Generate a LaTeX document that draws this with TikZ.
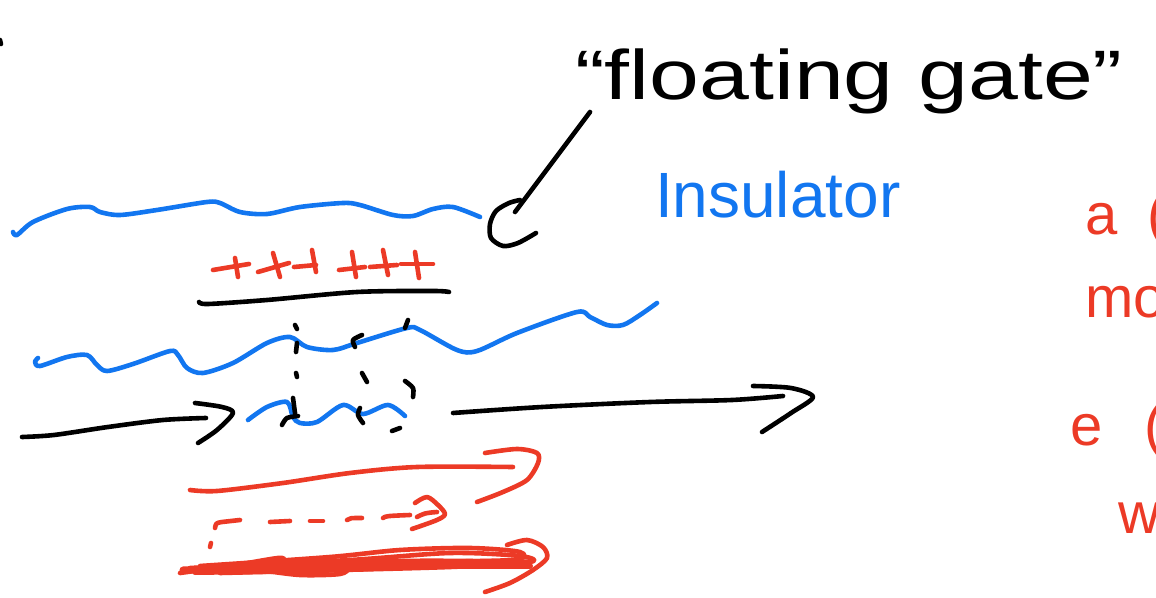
\documentclass[tikz,border=0pt]{standalone}
\usepackage{fontspec}
\setmainfont{Liberation Sans}
\definecolor{inkblue}{RGB}{18,118,240}
\definecolor{inkred}{RGB}{236,58,38}
\begin{document}
\begin{tikzpicture}[x=0.5pt,y=-0.5pt,
  pen/.style={line width=2.3pt,line cap=round,line join=round},
  bluepen/.style={pen,draw=inkblue},
  redpen/.style={pen,draw=inkred},
  blackpen/.style={pen,draw=black},
  txt/.style={inner sep=0pt,outer sep=0pt,anchor=base west}]
\useasboundingbox (0,0) rectangle (1156,598);
\clip (0,0) rectangle (1156,598);

% tiny mark top-left
\draw[blackpen] (0,40) -- (1,44);

% title
\node[txt,text=black,font=\fontsize{35}{40}\selectfont] (title) at (575,100) {\scalebox{1.28}[1]{“floating gate”}};
% pointer line and hook
\coordinate (ptrA) at (590,112);
\coordinate (ptrB) at (515,212);
\draw[blackpen] (ptrA) -- (ptrB);
\draw[blackpen] plot[smooth] coordinates {(520,200) (509,203) (496,211) (490,224) (491,238) (503,246) (518,243) (536,233)};

% Insulator label
\node[txt,text=inkblue,font=\fontsize{32}{36}\selectfont] (ins) at (655,218) {Insulator};

% top blue wave
\draw[bluepen] plot[smooth] coordinates {(13,232) (17,235) (33,222) (67,209) (90,207) (100,212) (120,215) (157,210) (207,202) (220,203) (240,212) (267,214) (300,207) (343,203) (360,205) (393,215) (413,216) (433,209) (453,207) (480,217)};

% red plus signs
\foreach \hx/\hy/\hX/\hY/\vx/\vy/\vX/\vY in {
  213/270/249/264/235/258/238/277,
  258/272/289/263/273/253/280/277,
  294/267/316/265/312/250/316/272,
  339/270/365/267/352/252/356/277,
  370/267/397/265/383/250/388/275,
  401/264/433/264/415/252/419/278}{
  \draw[redpen] (\hx,\hy) -- (\hX,\hY);
  \draw[redpen] (\vx,\vy) -- (\vX,\vY);
}

% black underline (gate)
\draw[blackpen] plot[smooth] coordinates {(199,302) (208,304) (267,300) (357,292) (433,291) (449,292)};

% second blue wave
\draw[bluepen] plot[smooth] coordinates {(38,358) (35,362) (40,366) (67,357) (87,355) (97,365) (107,371) (133,364) (170,351) (178,355) (187,368) (203,373) (233,363) (267,343) (290,337) (307,347) (333,350) (357,343) (407,328) (420,330) (457,350) (477,351) (517,333) (577,312) (590,317) (607,325) (623,325) (640,315) (657,303)};

% small blue wave (channel)
\draw[bluepen] plot[smooth] coordinates {(248,420) (267,407) (287,402) (293,417) (300,423) (317,422) (343,405) (363,414) (388,405) (405,416)};

% black dotted marks
\draw[blackpen] (295,325) -- (297,329);
\draw[blackpen] (297,343) -- (296,352);
\draw[blackpen] (296,373) -- (297,377);
\draw[blackpen] (293,398) -- (295,413);
\draw[blackpen] plot[smooth] coordinates {(282,425) (287,418) (298,416)};
\draw[blackpen] plot[smooth] coordinates {(362,335) (353,340) (355,347)};
\draw[blackpen] (408,320) -- (405,328);
\draw[blackpen] (362,373) -- (367,382);
\draw[blackpen] plot[smooth] coordinates {(405,381) (413,388) (413,397)};
\draw[blackpen] plot[smooth] coordinates {(360,408) (358,415) (363,423)};
\draw[blackpen] (392,431) -- (400,428);

% left black arrow
\draw[blackpen] plot[smooth] coordinates {(22,437) (54,435) (108,427) (163,420) (206,418)};
\draw[blackpen] plot[smooth] coordinates {(195,403) (222,407) (233,413) (217,430) (198,443)};

% right black arrow
\draw[blackpen] plot[smooth] coordinates {(453,413) (542,407) (650,402) (732,400) (783,396)};
\draw[blackpen] plot[smooth] coordinates {(753,386) (791,388) (813,397) (791,413) (762,432)};

% red arrow 1
\draw[redpen] plot[smooth] coordinates {(190,490) (217,491) (283,483) (350,473) (417,467) (513,467)};
\draw[redpen] plot[smooth] coordinates {(485,453) (517,449) (537,453) (538,463) (527,480) (503,492) (477,502)};

% red dashed arrow
\draw[redpen] (210,547) -- (211,543);
\draw[redpen] (215,528) .. controls (216,523) .. (222,522) -- (240,520);
\draw[redpen] (270,522) -- (290,521);
\draw[redpen] (310,521) -- (323,521);
\draw[redpen] (347,520) .. controls (350,518) .. (362,518);
\draw[redpen] (383,518) .. controls (386,516) .. (410,515);
\draw[redpen] (417,517) .. controls (425,513) .. (437,512);
\draw[redpen] plot[smooth] coordinates {(415,503) (427,497) (438,505) (445,514) (437,520) (412,529)};

% red scribbled arrow
\draw[redpen] plot[smooth] coordinates {(180,573) (230,566) (278,558) (283,561) (260,566) (200,572)};
\draw[redpen,line width=3.5pt] plot[smooth] coordinates {(183,570) (300,565) (420,562) (527,563)};
\draw[redpen] plot[smooth] coordinates {(190,568) (350,560) (450,553) (520,556) (530,562) (450,567) (300,571) (220,573)};
\draw[redpen] plot[smooth] coordinates {(260,570) (300,575) (340,574) (345,568) (300,566) (262,568)};
\draw[redpen] plot[smooth] coordinates {(200,566) (330,557) (400,550) (470,548) (520,552) (512,560) (400,562)};
\draw[redpen,line width=3pt] plot[smooth] coordinates {(195,572) (320,570) (430,566) (530,566)};
\draw[redpen] plot[smooth] coordinates {(507,545) (527,540) (543,547) (547,558) (533,570) (510,583) (485,592)};

% red notes at right (cut off as in the reference)
\node[txt,text=inkred,font=\fontsize{29}{34}\selectfont] (na) at (1085,235) {a\hspace{15pt}(};
\node[txt,text=inkred,font=\fontsize{29}{34}\selectfont] (nmo) at (1085,318) {mo};
\node[txt,text=inkred,font=\fontsize{29}{34}\selectfont] (ne) at (1070,445) {e\hspace{21pt}(};
\node[txt,text=inkred,font=\fontsize{29}{34}\selectfont] (nw) at (1118,533) {w};
\end{tikzpicture}
\end{document}
